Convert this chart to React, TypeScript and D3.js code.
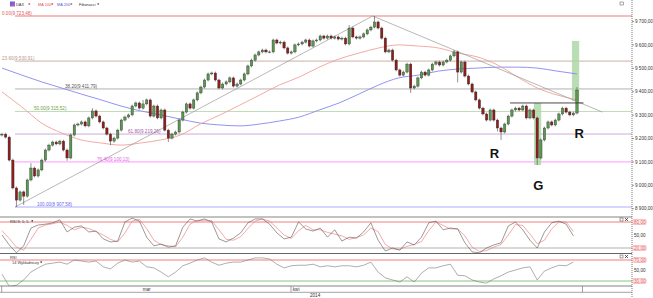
import React from 'react';
import * as d3 from 'd3';

// ---------- DATA ----------
const firstOpen = 9215;
const closes = [
  9219, 9206, 9108, 8989, 8937, 8972, 8954, 9023, 9074, 9040,
  9066, 9108, 9151, 9172, 9185, 9177, 9189, 9151, 9117, 9215,
  9258, 9262, 9271, 9254, 9288, 9318, 9296, 9271, 9245, 9219,
  9189, 9202, 9236, 9279, 9292, 9301, 9339, 9352, 9330, 9348,
  9365, 9296, 9339, 9288, 9322, 9236, 9202, 9219, 9228, 9279,
  9313, 9348, 9330, 9365, 9395, 9420, 9450, 9476, 9480, 9450,
  9416, 9433, 9442, 9459, 9424, 9433, 9450, 9476, 9510, 9535,
  9557, 9570, 9578, 9570, 9570, 9621, 9608, 9612, 9587, 9565,
  9570, 9600, 9604, 9612, 9621, 9595, 9617, 9621, 9638, 9629,
  9638, 9629, 9634, 9625, 9629, 9604, 9672, 9634, 9629, 9634,
  9647, 9664, 9676, 9698, 9672, 9629, 9570, 9578, 9535, 9493,
  9471, 9484, 9518, 9416, 9424, 9459, 9484, 9471, 9493, 9518,
  9527, 9514, 9527, 9535, 9553, 9570, 9484, 9527, 9467, 9433,
  9399, 9365, 9330, 9305, 9279, 9322, 9279, 9245, 9228, 9262,
  9296, 9322, 9330, 9322, 9339, 9288, 9322, 9288, 9117, 9194,
  9245, 9271, 9258, 9279, 9305, 9330, 9313, 9301, 9309, 9407,
];
const highs: Record<number, number> = {
  8: 9095, 25: 9330, 39: 9365, 96: 9685, 103: 9723.48, 125: 9578, 159: 9420,
};
const lows: Record<number, number> = {
  4: 8907.58, 6: 8916, 18: 9105, 30: 9172, 46: 9185, 113: 9395, 126: 9440,
  137: 9230, 138: 9194, 148: 9087,
};
const defaultWick = 6;

const ma100 = [9399, 9335, 9266, 9224, 9194, 9181, 9172, 9181, 9194, 9215,
  9262, 9301, 9343, 9386, 9429, 9463, 9505, 9540, 9565, 9587,
  9600, 9595, 9587, 9565, 9548, 9514, 9463, 9416, 9386, 9365];
const ma200 = [9501, 9471, 9442, 9416, 9390, 9365, 9339, 9318, 9301, 9283,
  9266, 9258, 9254, 9262, 9275, 9292, 9322, 9352, 9390, 9429,
  9459, 9471, 9488, 9497, 9501, 9505, 9505, 9501, 9488, 9476];

const stochK = [50, 27, 9, 25, 66, 73, 75, 78, 85, 57, 68, 71, 57, 59, 41, 34, 36, 80, 89, 82,
  45, 25, 29, 22, 25, 68, 87, 82, 87, 80, 41, 34, 43, 55, 78, 87, 87, 75, 55, 41,
  45, 80, 64, 59, 66, 45, 62, 36, 45, 43, 57, 78, 38, 13, 20, 15, 34, 27, 45, 78,
  82, 62, 66, 64, 32, 11, 9, 20, 27, 32, 71, 80, 62, 38, 20, 57, 78, 82, 75, 48];
const stochD = [60, 42, 22, 15, 40, 66, 73, 76, 80, 72, 62, 68, 65, 58, 50, 40, 34, 55, 82, 86,
  65, 38, 28, 25, 23, 45, 75, 84, 84, 83, 62, 40, 38, 46, 65, 82, 87, 82, 66, 50,
  42, 60, 72, 62, 62, 56, 52, 48, 40, 44, 50, 66, 58, 28, 18, 17, 24, 28, 35, 60,
  80, 72, 64, 64, 48, 22, 12, 14, 22, 28, 50, 74, 72, 52, 30, 38, 64, 80, 80, 58];
const rsi14 = [43, 20, 22, 32, 47, 55, 62, 64, 66, 62, 70, 68, 66, 68, 57, 53, 64, 70, 66, 68,
  57, 55, 47, 38, 47, 59, 64, 70, 74, 66, 60, 64, 66, 66, 70, 74, 74, 72, 62, 55,
  59, 60, 60, 62, 57, 59, 57, 59, 59, 57, 60, 66, 47, 36, 32, 28, 38, 28, 45, 55,
  55, 59, 62, 41, 40, 32, 28, 26, 34, 40, 47, 51, 55, 57, 32, 49, 55, 60, 59, 66];

const yTicks = [8900, 9000, 9100, 9200, 9300, 9400, 9500, 9600, 9700];
const fibPercents = ['0.00', '23.60', '38.20', '50.00', '61.80', '76.40', '100.00'];
const fibValues = [9723.48, 9530.91, 9411.79, 9315.52, 9219.26, 9100.13, 8907.58];
const stochLevels = [80, 50, 20];
const rsiLevels = [70, 50, 30];
const monthBreaks = [0, 80, 160.6];
const monthNames = ['mar', 'kwi'];
const yearLabel = '2014';
const legendItems = ['DAX', 'MA 100', 'MA 200', 'Fibonacci'];

// trend lines: [candle index, price]
const trendLines = [
  [[3.6, 8907.58], [102.5, 9723.48]],
  [[102.5, 9723.48], [166, 9313]],
];
const neckline = [[140.5, 9352], [160.8, 9352]];
const highlightBars = [
  { from: 147.1, to: 149.1, hi: 9352, lo: 9087 },
  { from: 157.6, to: 159.6, hi: 9617, lo: 9360 },
];
const annotations = [
  { text: 'R', at: 136.2, price: 9117 },
  { text: 'G', at: 148.3, price: 8980 },
  { text: 'R', at: 159.6, price: 9202 },
];

// ---------- STYLE ----------
const W = 653, H = 298;
const plotRight = 632;
const FONT = '"Liberation Sans", Arial, sans-serif';
const fibColors = ['#f07a7a', '#c7a79c', '#a8a8a8', '#b9d9b0', '#c7a3cf', '#ff8cff', '#a3a3ff'];
const fibTextColors = ['#e05a5a', '#b8988c', '#555555', '#6d9e4a', '#9a5aaa', '#e35ce3', '#6a6ae8'];
const fibLabelX = [2, 2, 65, 34, 128, 97, 37];
const legendX = [16, 38, 57, 79];
const legendColors = ['#333', '#e05050', '#5a5ae0', '#333'];
const legendMarkX = [28.5, 51.5, 70.5];

const fmt = (v: number) => {
  const [i, d] = v.toFixed(2).split('.');
  return i.replace(/\B(?=(\d{3})+(?!\d))/g, ' ') + ',' + d;
};

export default function App() {
  const n = closes.length;
  const x = d3.scaleLinear().domain([0, n - 1]).range([2, 577]);
  const y = d3.scaleLinear().domain([8907.58, 9723.48]).range([207, 16]);
  const yS = d3.scaleLinear().domain([20, 80]).range([248, 222]);
  const yR = d3.scaleLinear().domain([30, 70]).range([281, 260]);

  const candles = closes.map((c, i) => {
    const o = i === 0 ? firstOpen : closes[i - 1];
    const h = highs[i] ?? Math.max(o, c) + defaultWick;
    const l = lows[i] ?? Math.min(o, c) - defaultWick;
    return { i, o, c, h, l };
  });

  const maX = (k: number, len: number) => x((k * (n - 1)) / (len - 1));
  const maLine = (arr: number[]) =>
    d3.line<number>().x((_, k) => maX(k, arr.length)).y((v) => y(v)).curve(d3.curveMonotoneX)(arr) || '';
  const indLine = (arr: number[], sc: d3.ScaleLinear<number, number>) =>
    d3.line<number>().x((_, k) => x(k * 2)).y((v) => sc(v))(arr) || '';

  const smallText = { fontFamily: FONT, fontSize: 4.6 } as const;
  const legendText = { fontFamily: FONT, fontSize: 3.9 } as const;

  return (
    <svg width={W} height={H} style={{ position: 'absolute', left: 0, top: 0, background: '#fff' }}>
      <defs>
        <clipPath id="main"><rect x={0} y={0} width={plotRight} height={217} /></clipPath>
        <clipPath id="p1"><rect x={0} y={217} width={plotRight} height={36.5} /></clipPath>
        <clipPath id="p2"><rect x={0} y={254} width={plotRight} height={32} /></clipPath>
        <linearGradient id="ico" x1="0" y1="0" x2="1" y2="1">
          <stop offset="0" stopColor="#5a5ae6" />
          <stop offset="1" stopColor="#c060c0" />
        </linearGradient>
      </defs>

      <g clipPath="url(#main)">
        {fibValues.map((v, k) => (
          <line key={'f' + k} x1={x(3.6)} x2={plotRight} y1={y(v)} y2={y(v)}
            stroke={fibColors[k]} strokeWidth={k === 0 ? 1.1 : 0.9} />
        ))}
        {highlightBars.map((b, k) => (
          <rect key={'h' + k} x={x(b.from)} width={x(b.to) - x(b.from)} y={y(b.hi)} height={y(b.lo) - y(b.hi)}
            fill="#a9d6a0" opacity={0.8} />
        ))}
        <path d={maLine(ma200)} fill="none" stroke="#8787ee" strokeWidth={0.9} />
        <path d={maLine(ma100)} fill="none" stroke="#f2a099" strokeWidth={0.9} />
        {trendLines.map((t, k) => (
          <line key={'t' + k} x1={x(t[0][0])} y1={y(t[0][1])} x2={x(t[1][0])} y2={y(t[1][1])}
            stroke="#9a9a9a" strokeWidth={0.7} />
        ))}
        {candles.map((d) => {
          const up = d.c >= d.o;
          const top = y(Math.max(d.o, d.c));
          const bot = y(Math.min(d.o, d.c));
          return (
            <g key={d.i}>
              <line x1={x(d.i)} x2={x(d.i)} y1={y(d.h)} y2={y(d.l)} stroke="#4a4a4a" strokeWidth={0.6} />
              <rect x={x(d.i) - 1.2} width={2.4} y={top} height={Math.max(0.8, bot - top)}
                fill={up ? '#5a9850' : '#8e1d1d'} stroke="#2a2a2a" strokeWidth={0.35} />
            </g>
          );
        })}
        <line x1={x(neckline[0][0])} x2={x(neckline[1][0])} y1={y(neckline[0][1])} y2={y(neckline[1][1])}
          stroke="#333" strokeWidth={0.9} />
        {annotations.map((a, k) => (
          <text key={'a' + k} x={x(a.at)} y={y(a.price)} textAnchor="middle"
            style={{ fontFamily: FONT, fontSize: 13, fontWeight: 'bold' }} fill="#111">{a.text}</text>
        ))}
        {fibValues.map((v, k) => (
          <text key={'fl' + k} x={fibLabelX[k]} y={y(v) - 1.4} style={smallText} fill={fibTextColors[k]}>
            {`${fibPercents[k]}(${fmt(v)})`}
          </text>
        ))}
      </g>

      {/* legend */}
      <rect x={10} y={1.5} width={5} height={5} fill="url(#ico)" />
      {legendItems.map((t, k) => (
        <text key={'lg' + k} x={legendX[k]} y={5.8} style={legendText} fill={legendColors[k]}>{t}</text>
      ))}
      {legendMarkX.map((mx, k) => (
        <rect key={'lm' + k} x={mx} y={3.3} width={1.6} height={1.4} fill="#d04040" />
      ))}
      <path d="M97,3.4 L99.4,3.4 L98.2,5 Z" fill="#333" />
      <rect x={620} y={2} width={3.5} height={3} fill="none" stroke="#555" strokeWidth={0.5} />

      {/* panel 1 : RSI 9;5;5 */}
      <line x1={0} x2={plotRight} y1={217} y2={217} stroke="#666" strokeWidth={0.8} />
      <g clipPath="url(#p1)">
        <line x1={0} x2={plotRight} y1={yS(80)} y2={yS(80)} stroke="#f07070" strokeWidth={0.9} />
        <line x1={0} x2={plotRight} y1={yS(20)} y2={yS(20)} stroke="#a8a8a8" strokeWidth={0.9} />
        <path d={indLine(stochD, yS)} fill="none" stroke="#f07070" strokeWidth={0.6} />
        <path d={indLine(stochK, yS)} fill="none" stroke="#555" strokeWidth={0.6} />
      </g>
      <text x={10} y={222.5} style={legendText} fill="#333">RSI 9; 5; 5</text>
      <rect x={31.5} y={220.2} width={1.5} height={1.4} fill="#333" />
      <line x1={0} x2={plotRight} y1={253.5} y2={253.5} stroke="#666" strokeWidth={1} />

      {/* panel 2 : RSI 14 */}
      <g clipPath="url(#p2)">
        <line x1={0} x2={plotRight} y1={yR(70)} y2={yR(70)} stroke="#f07070" strokeWidth={0.9} />
        <line x1={0} x2={plotRight} y1={yR(30)} y2={yR(30)} stroke="#7bbf72" strokeWidth={0.9} />
        <path d={indLine(rsi14, yR)} fill="none" stroke="#777" strokeWidth={0.6} />
      </g>
      <text x={10} y={258.5} style={legendText} fill="#333">RSI</text>
      <text x={12} y={264} style={legendText} fill="#333">14 Wykładniczy</text>
      <path d="M40,261.6 L42.4,261.6 L41.2,263.2 Z" fill="#333" />
      <line x1={0} x2={plotRight} y1={286} y2={286} stroke="#666" strokeWidth={0.8} />

      {[219.5, 256.5].map((yy, k) => (
        <g key={'w' + k}>
          <rect x={620} y={yy - 1.5} width={3} height={3} fill="none" stroke="#444" strokeWidth={0.5} />
          <path d={`M625,${yy - 1.5} l3,3 M628,${yy - 1.5} l-3,3`} stroke="#222" strokeWidth={0.7} />
        </g>
      ))}

      {/* time axis */}
      <line x1={0} x2={plotRight} y1={292.3} y2={292.3} stroke="#666" strokeWidth={0.6} />
      {monthBreaks.map((b, k) => (
        <line key={'mb' + k} x1={x(b) - 0.3} x2={x(b) - 0.3} y1={286} y2={292.3} stroke="#666" strokeWidth={0.6} />
      ))}
      <text x={(x(monthBreaks[0]) + x(monthBreaks[1])) / 2} y={291} textAnchor="middle" style={smallText} fill="#333">{monthNames[0]}</text>
      <text x={x(monthBreaks[1]) + 1.5} y={291} style={smallText} fill="#333">{monthNames[1]}</text>
      <text x={310} y={297} style={smallText} fill="#333">{yearLabel}</text>

      {/* right axis */}
      <line x1={plotRight} x2={plotRight} y1={0} y2={H} stroke="#555" strokeWidth={0.8} strokeDasharray="1,1" />
      {yTicks.map((t) => (
        <g key={'yt' + t}>
          <line x1={plotRight} x2={plotRight + 2} y1={y(t)} y2={y(t)} stroke="#555" strokeWidth={0.6} />
          <text x={plotRight + 3} y={y(t) + 1.6} style={smallText} fill="#333">{fmt(t)}</text>
        </g>
      ))}
      {stochLevels.map((v) => (
        <g key={'sl' + v}>
          {v !== 50 && <rect x={plotRight + 1} y={yS(v) - 2.4} width={13} height={4.8} rx={0.8} fill="#fff0f0" stroke="#f08080" strokeWidth={0.5} />}
          <text x={plotRight + 2} y={yS(v) + 1.6} style={smallText} fill={v === 50 ? '#333' : '#e05a5a'}>{fmt(v)}</text>
        </g>
      ))}
      {rsiLevels.map((v) => (
        <g key={'rl' + v}>
          {v !== 50 && <rect x={plotRight + 1} y={yR(v) - 2.4} width={13} height={4.8} rx={0.8} fill="#fff0f0" stroke="#f08080" strokeWidth={0.5} />}
          <text x={plotRight + 2} y={yR(v) + 1.6} style={smallText} fill={v === 50 ? '#333' : '#e05a5a'}>{fmt(v)}</text>
        </g>
      ))}
    </svg>
  );
}
